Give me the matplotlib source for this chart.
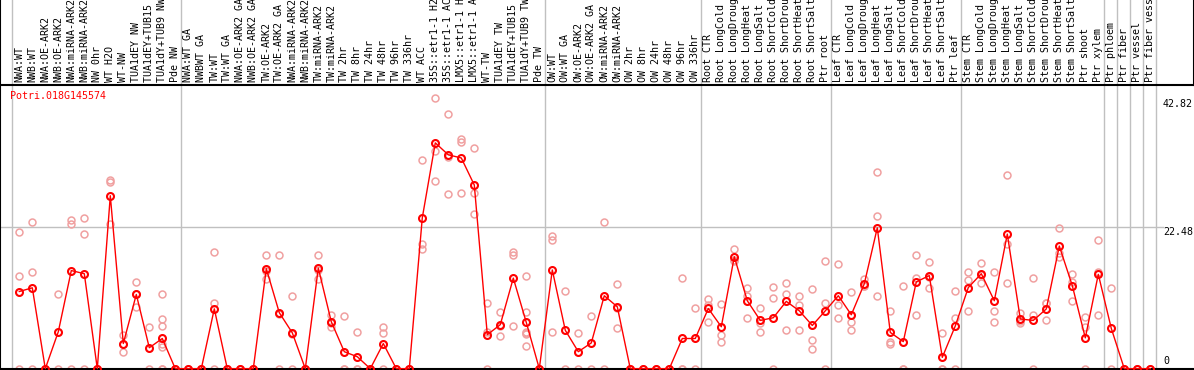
import matplotlib
matplotlib.use("Agg")
import matplotlib.pyplot as plt

# ---------------- data ----------------
gene = "Potri.018G145574"

labels = [
    "NWA:WT", "NWB:WT", "NWA:OE-ARK2", "NWB:OE-ARK2", "NWA:miRNA-ARK2", "NWB:miRNA-ARK2",
    "NW 0hr", "WT H2O", "WT-NW", "TUA1dEY NW", "TUA1dEY+TUB15 NW", "TUA1dY+TUB9 NW", "Pde NW",
    "NWA:WT GA", "NWBWT GA", "TW:WT", "TW:WT GA", "NWA:OE-ARK2 GA", "NWB:OE-ARK2 GA",
    "TW:OE-ARK2", "TW:OE-ARK2 GA", "NWA:miRNA-ARK2", "NWB:miRNA-ARK2", "TW:miRNA-ARK2",
    "TW:miRNA-ARK2", "TW 2hr", "TW 8hr", "TW 24hr", "TW 48hr", "TW 96hr", "TW 336hr",
    "WT ACC", "35S::etr1-1 H2O", "35S::etr1-1 ACC", "LMX5::etr1-1 H2O", "LMX5::etr1-1 ACC",
    "WT-TW", "TUA1dEY TW", "TUA1dEY+TUB15 TW", "TUA1dY+TUB9 TW", "Pde TW",
    "OW:WT", "OW:WT GA", "OW:OE-ARK2", "OW:OE-ARK2 GA", "OW:miRNA-ARK2", "OW:miRNA-ARK2",
    "OW 2hr", "OW 8hr", "OW 24hr", "OW 48hr", "OW 96hr", "OW 336hr",
    "Root CTR", "Root LongCold", "Root LongDrought", "Root LongHeat", "Root LongSalt",
    "Root ShortCold", "Root ShortDrought", "Root ShortHeat", "Root ShortSalt", "Ptr root",
    "Leaf CTR", "Leaf LongCold", "Leaf LongDrought", "Leaf LongHeat", "Leaf LongSalt",
    "Leaf ShortCold", "Leaf ShortDrought", "Leaf ShortHeat", "Leaf ShortSalt", "Ptr leaf",
    "Stem CTR", "Stem LongCold", "Stem LongDrought", "Stem LongHeat", "Stem LongSalt",
    "Stem ShortCold", "Stem ShortDrought", "Stem ShortHeat", "Stem ShortSalt",
    "Ptr shoot", "Ptr xylem", "Ptr phloem", "Ptr fiber", "Ptr vessel", "Ptr fiber vessel",
]

means = [
    12.27, 12.86, 0, 5.87, 15.6, 15.1, 0, 27.5, 4.0, 11.8, 3.33, 4.8, 0,
    0, 0, 9.52, 0, 0, 0, 15.9, 8.9, 5.7, 0, 16.0, 7.46, 2.7, 1.9, 0, 4.0, 0, 0,
    24.0, 35.9, 34.0, 33.5, 29.2, 5.4, 7.0, 14.4, 7.35, 0,
    15.7, 6.1, 2.7, 4.1, 11.6, 9.84, 0, 0, 0, 0, 4.8, 4.8,
    9.57, 6.67, 17.8, 10.8, 7.67, 8.1, 10.7, 9.2, 6.87, 9.2,
    11.6, 8.57, 13.5, 22.4, 5.76, 4.3, 13.8, 14.8, 1.8, 6.8,
    12.9, 15.1, 10.8, 21.4, 7.9, 7.67, 9.5, 19.5, 13.2, 4.9,
    15.0, 6.4, 0, 0, 0,
]

replicates = [
    [21.7, 14.8, 0], [23.3, 15.4, 0], [0, 0], [11.95, 0], [23.7, 23.0, 0], [24.0, 21.4, 0],
    [0, 0], [30.0, 29.6, 23.0], [5.3, 2.7, 4.0], [13.8, 9.8, 11.8], [6.67, 0],
    [11.95, 7.9, 6.8, 3.9, 3.5, 0, 0], [0, 0],
    [0, 0], [0, 0], [18.5, 10.4, 0], [0, 0], [0, 0], [0, 0], [18.0, 15.5, 14.3],
    [18.0, 0, 8.7], [11.6, 0, 5.5], [0, 0], [18.0, 14.3, 15.7], [8.46, 6.67, 7.3],
    [8.4, 0, 0], [5.87, 0, 0], [0, 0], [6.67, 5.6, 0], [0, 0], [0, 0],
    [33.2, 19.8, 19.1], [43.0, 34.6, 29.8], [40.5, 27.8, 33.7], [36.5, 36.1, 27.9],
    [35.1, 27.9, 24.6], [10.5, 5.87, 0], [9.0, 5.2, 6.8], [18.6, 18.1, 6.8],
    [14.8, 9.05, 5.9, 5.7, 5.5, 3.6], [0, 0],
    [21.05, 20.5, 5.87], [12.3, 0], [5.6, 0], [8.4, 0], [23.3, 0], [13.4, 6.4, 9.7],
    [0, 0], [0, 0], [0, 0], [0, 0], [14.4, 0, 0], [9.7, 0],
    [11.0, 10.2, 7.46], [10.3, 5.4, 4.3], [19.1, 17.2, 17.1], [12.9, 11.6, 8.0],
    [9.57, 7.3, 5.87], [13.0, 11.3, 0], [13.65, 11.95, 6.1], [11.6, 10.2, 6.1],
    [12.7, 4.5, 3.2], [17.1, 10.5, 0],
    [16.7, 10.2, 8.1], [12.2, 7.46, 6.2], [14.3, 13.1, 13.1], [31.3, 24.3, 11.5],
    [9.1, 4.3, 3.9], [13.2, 0, 0], [18.0, 14.4, 8.6], [16.9, 12.9, 14.6], [5.6, 0, 0],
    [12.4, 8.1, 0],
    [15.4, 14.1, 9.1], [16.8, 13.6, 14.9], [15.4, 9.2, 7.46], [30.8, 19.9, 13.6],
    [8.8, 7.3, 7.6], [14.4, 8.6, 0], [10.5, 7.67, 10.4], [22.4, 18.4, 17.7],
    [15.0, 10.8, 13.8], [8.25, 6.7, 0],
    [20.5, 15.4, 8.6], [12.9, 0], [0, 0], [0, 0], [0, 0],
]

group_ends = [-1, 12, 40, 52, 62, 72, 83, 84, 85, 86, 87]
y_ticks = [42.82, 22.48]
y_tick_labels = ["42.82", "22.48"]

# ---------------- figure ----------------
W, H = 1194, 370
fig = plt.figure(figsize=(W / 100, H / 100), dpi=100)
font = dict(family="DejaVu Sans Mono", size=7.2)

x0 = -19.3 / 13
x1 = (W - 19.3) / 13
grid_col = "#c0c0c0"

# plot area
ax = fig.add_axes([0, 1 / H, 1, 284 / H])
ax.set_xlim(x0, x1)
ax.set_ylim(-0.05, 45.1)
ax.set_xticks([])
ax.set_yticks([])
for s in ("top", "right"):
    ax.spines[s].set_visible(False)
for s in ("left", "bottom"):
    ax.spines[s].set_color("black")
    ax.spines[s].set_linewidth(1.5)

right_frac = 1163 / W
for v in y_ticks[1:]:
    ax.axhline(v, xmin=0, xmax=right_frac, color=grid_col, lw=1, zorder=0)
for g in group_ends:
    ax.axvline(g + 0.4, color=grid_col, lw=1, zorder=0)

rx = [i for i, reps in enumerate(replicates) for _ in reps]
ry = [v for reps in replicates for v in reps]
ax.plot(rx, ry, linestyle="none", marker="o", ms=5, mfc="none", mec="#f0a0a0",
        mew=1.1, clip_on=False, zorder=2)
ax.plot(range(len(means)), means, color="#ff0000", lw=1, marker="o", ms=5,
        mfc="none", mec="#ff0000", mew=1.5, clip_on=False, zorder=3)

xt = ax.get_xlim()[0] + (ax.get_xlim()[1] - ax.get_xlim()[0]) * right_frac
for v, t in zip(y_ticks, y_tick_labels):
    ax.text(xt, v, t, ha="left", va="top", color="black", **font)
ax.text(xt, 0.4, "0", ha="left", va="bottom", color="black", **font)

ax.text(10 / W, 1 - 6 / 284, gene, transform=ax.transAxes, ha="left", va="top",
        color="#ff0000", **font)

# label area
lax = fig.add_axes([0, 285 / H, 1, 85 / H])
lax.set_xlim(x0, x1)
lax.set_ylim(0, 85)
lax.set_xticks([])
lax.set_yticks([])
lax.spines["top"].set_visible(False)
for s in ("left", "right", "bottom"):
    lax.spines[s].set_color("black")
    lax.spines[s].set_linewidth(1.5)
for g in group_ends:
    lax.axvline(g + 0.4, color=grid_col, lw=1, zorder=0)
for i, lab in enumerate(labels):
    t = lax.text(i, 3, lab, rotation=90, ha="center", va="bottom", color="black",
                 clip_on=True, **font)

fig.savefig("out.png", dpi=100)
